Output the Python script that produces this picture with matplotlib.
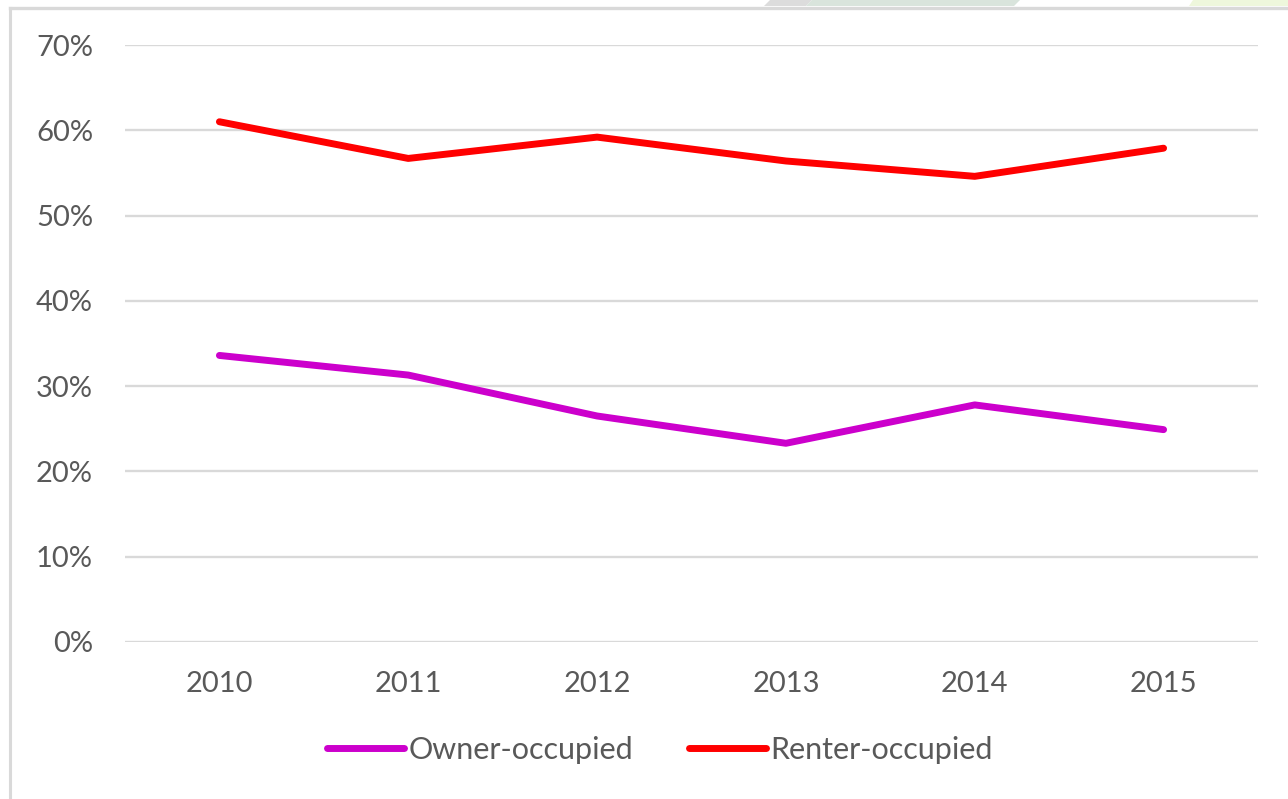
import matplotlib
matplotlib.use("Agg")
import matplotlib.pyplot as plt
from matplotlib.lines import Line2D
from matplotlib.patches import Polygon
from matplotlib.ticker import PercentFormatter

years = ["2010", "2011", "2012", "2013", "2014", "2015"]
owner = [33.6, 31.3, 26.5, 23.3, 27.8, 24.9]
renter = [61.0, 56.7, 59.2, 56.4, 54.6, 57.9]
series_names = ["Owner-occupied", "Renter-occupied"]
yticks = [0, 10, 20, 30, 40, 50, 60, 70]

W, H = 1288, 799
plt.rcParams["font.family"] = ["Lato", "DejaVu Sans"]
TXT = "#595959"
GRID = "#d9d9d9"

fig = plt.figure(figsize=(W / 100, H / 100), dpi=100)
fig.patch.set_facecolor("white")

def fx(px):
    return px / W

def fy(py):
    return 1 - py / H

# outer frame and top decorations
fig.add_artist(Line2D([fx(9.5), fx(9.5)], [fy(7.5), 0], color=GRID, lw=2.2))
fig.add_artist(Line2D([fx(9.5), 1], [fy(7.5), fy(7.5)], color=GRID, lw=2.4))
for xs, col in [((764, 770, 812, 806), "#dcdcdc"), ((806, 812, 1020, 1014), "#d9e4dc"),
                ((1189, 1193, 1288, 1288), "#eef7dc")]:
    poly = Polygon([(fx(xs[0]), fy(6)), (fx(xs[1]), 1), (fx(xs[2]), 1), (fx(xs[3]), fy(6))],
                   closed=True, transform=fig.transFigure, facecolor=col, edgecolor="none")
    fig.add_artist(poly)

ax = fig.add_axes([fx(125), fy(642), fx(1258) - fx(125), fy(45) - fy(642)])
x = list(range(len(years)))
ax.plot(x, owner, color="#cc00cc", lw=5, solid_capstyle="round", solid_joinstyle="round",
        label=series_names[0], zorder=3)
ax.plot(x, renter, color="#ff0000", lw=5, solid_capstyle="round", solid_joinstyle="round",
        label=series_names[1], zorder=3)

ax.set_xlim(-0.5, len(years) - 0.5)
ax.set_ylim(0, 70)
ax.set_yticks(yticks)
ax.yaxis.set_major_formatter(PercentFormatter(decimals=0))
ax.set_xticks(x)
ax.set_xticklabels(years)
ax.grid(axis="y", color=GRID, lw=1.7)
ax.set_axisbelow(True)
for s in ax.spines.values():
    s.set_visible(False)
ax.tick_params(axis="y", length=0, pad=23, labelsize=21, labelcolor=TXT)
ax.tick_params(axis="x", length=0, pad=21, labelsize=21, labelcolor=TXT)

handles, labels = ax.get_legend_handles_labels()
leg = fig.legend(handles, labels, loc="center", bbox_to_anchor=(fx(660), fy(750)), ncol=2,
                 frameon=False, fontsize=22, handlelength=2.52, handletextpad=0.16,
                 columnspacing=1.8, labelcolor=TXT)
for h in leg.legend_handles:
    h.set_solid_capstyle("round")

fig.savefig("out.png", dpi=100, facecolor="white")
